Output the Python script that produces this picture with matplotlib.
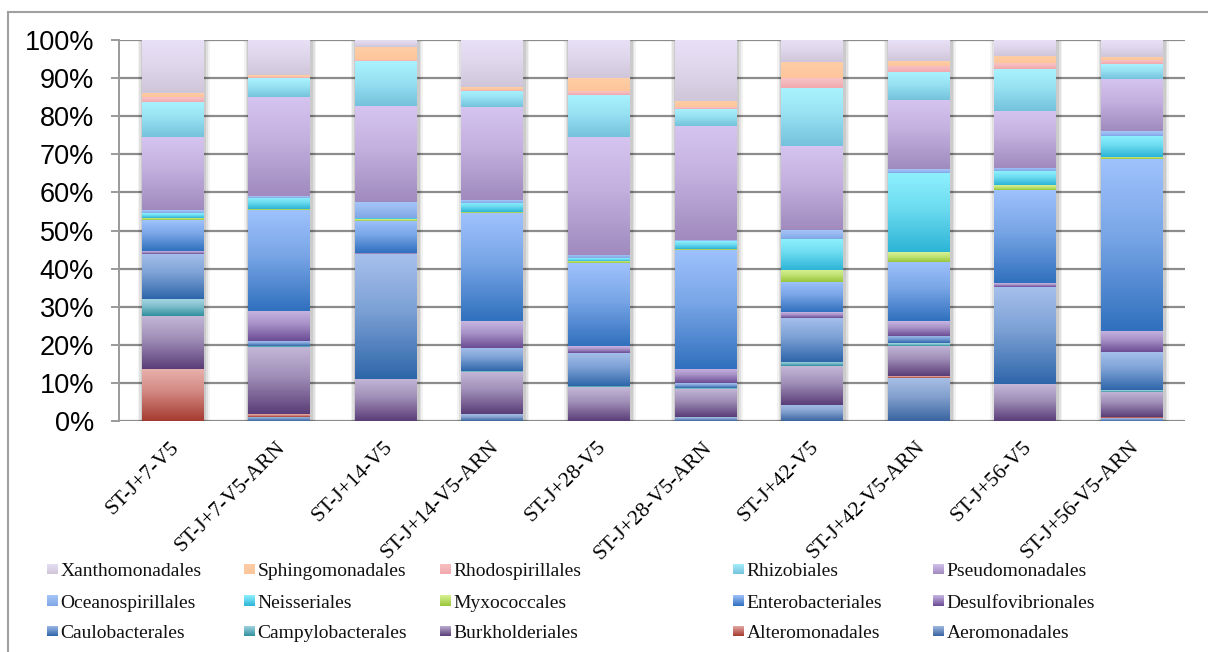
import numpy as np
import matplotlib
matplotlib.use("Agg")
import matplotlib.pyplot as plt
from matplotlib.colors import LinearSegmentedColormap, to_rgb
from matplotlib.lines import Line2D
import matplotlib.transforms as mtransforms

categories = ["ST-J+7-V5", "ST-J+7-V5-ARN", "ST-J+14-V5", "ST-J+14-V5-ARN",
              "ST-J+28-V5", "ST-J+28-V5-ARN", "ST-J+42-V5", "ST-J+42-V5-ARN",
              "ST-J+56-V5", "ST-J+56-V5-ARN"]

# series, stacked bottom -> top
aeromonadales      = [0.0, 1.05, 0.0, 1.75, 0.0, 1.05, 4.2, 11.3, 0.0, 0.7]
alteromonadales    = [13.7, 0.7, 0.0, 0.0, 0.0, 0.0, 0.0, 0.5, 0.0, 0.4]
burkholderiales    = [13.9, 17.7, 11.1, 11.1, 8.8, 7.4, 10.2, 7.9, 9.6, 6.6]
campylobacterales  = [4.5, 0.3, 0.0, 0.2, 0.3, 0.2, 1.1, 0.7, 0.0, 0.4]
caulobacterales    = [11.8, 1.3, 32.8, 6.1, 8.8, 1.2, 11.6, 1.9, 25.7, 9.9]
desulfovibrionales = [0.7, 7.9, 0.2, 7.0, 1.7, 3.7, 1.5, 3.9, 0.8, 5.6]
enterobacteriales  = [8.1, 26.3, 8.5, 28.3, 21.6, 31.3, 7.9, 15.5, 24.6, 44.9]
myxococcales       = [0.6, 0.4, 0.4, 0.3, 0.7, 0.3, 3.2, 2.6, 1.3, 0.7]
neisseriales       = [1.3, 2.9, 0.4, 2.5, 0.6, 2.1, 7.9, 20.6, 3.5, 5.5]
oceanospirillales  = [0.7, 0.4, 4.3, 0.7, 1.0, 0.2, 2.4, 1.0, 0.8, 1.2]
pseudomonadales    = [19.2, 26.0, 25.2, 24.4, 30.7, 30.0, 22.1, 18.1, 15.1, 13.7]
rhizobiales        = [9.2, 4.9, 11.8, 4.2, 11.0, 4.5, 15.2, 7.4, 11.1, 3.9]
rhodospirillales   = [1.2, 0.3, 0.2, 0.4, 1.0, 0.4, 2.6, 1.6, 1.5, 1.0]
sphingomonadales   = [1.2, 0.5, 3.4, 0.7, 3.4, 1.7, 4.2, 1.3, 1.9, 0.9]
xanthomonadales    = [13.8, 9.2, 1.9, 12.3, 10.0, 16.0, 5.8, 5.5, 4.1, 4.4]

series_names = ["Aeromonadales", "Alteromonadales", "Burkholderiales", "Campylobacterales",
                "Caulobacterales", "Desulfovibrionales", "Enterobacteriales", "Myxococcales",
                "Neisseriales", "Oceanospirillales", "Pseudomonadales", "Rhizobiales",
                "Rhodospirillales", "Sphingomonadales", "Xanthomonadales"]
series_values = [aeromonadales, alteromonadales, burkholderiales, campylobacterales,
                 caulobacterales, desulfovibrionales, enterobacteriales, myxococcales,
                 neisseriales, oceanospirillales, pseudomonadales, rhizobiales,
                 rhodospirillales, sphingomonadales, xanthomonadales]
# (top/light, bottom/dark)
series_colors = [
    ("#A9C0E6", "#3A64A0"),
    ("#EAB2AE", "#A53A30"),
    ("#C4B8D8", "#5A3D78"),
    ("#ABD8E6", "#30909E"),
    ("#A6C0EC", "#2E66AA"),
    ("#C8B6E2", "#6A4C94"),
    ("#9FC2FC", "#3070BE"),
    ("#D8F294", "#98C63A"),
    ("#8EF0FE", "#2CB4D6"),
    ("#A6C6F8", "#80A6E6"),
    ("#D6C4F0", "#A08ABE"),
    ("#AAF2FE", "#74C2DC"),
    ("#F8C2C4", "#F0A8AC"),
    ("#FFCEA6", "#FEC49A"),
    ("#E8E0F6", "#D0C6DA"),
]

W, H = 1208, 652
fig = plt.figure(figsize=(W / 100, H / 100), dpi=100)
ax = fig.add_axes([119 / W, 1 - 421 / H, (1185 - 119) / W, (421 - 40) / H])

vals = np.array(series_values, dtype=float)
pct = vals / vals.sum(axis=0) * 100.0
x = np.arange(len(categories))
bw = 0.575

# soft shadow behind bars
totals = pct.sum(axis=0)
for k, a in [(0.10, 0.05), (0.07, 0.07), (0.04, 0.09)]:
    ax.bar(x + 0.012, totals + 0.6, width=bw + k, bottom=-0.8, color="#000000",
           alpha=a, linewidth=0, zorder=2)

grad = np.linspace(0, 1, 128).reshape(-1, 1)
bottom = np.zeros(len(categories))
for name, v, (light, dark) in zip(series_names, pct, series_colors):
    mid = tuple(0.35 * np.array(to_rgb(dark)) + 0.65 * np.array(to_rgb(light)))
    cmap = LinearSegmentedColormap.from_list(
        name, [(0.0, to_rgb(dark)), (0.55, mid), (1.0, to_rgb(light))])
    bars = ax.bar(x, v, width=bw, bottom=bottom, color=light, linewidth=0, zorder=3, label=name)
    for p in bars:
        h = p.get_height()
        if h <= 0:
            continue
        x0, y0, w = p.get_x(), p.get_y(), p.get_width()
        im = ax.imshow(grad, extent=[x0, x0 + w, y0, y0 + h], origin="lower", cmap=cmap,
                       aspect="auto", zorder=4, interpolation="bilinear", vmin=0, vmax=1)
        im.set_clip_path(p)
    bottom += v

ax.set_xlim(-0.5, len(categories) - 0.5)
ax.set_ylim(0, 100)
ax.set_yticks(np.arange(0, 101, 10))
ax.set_yticklabels([f"{t}%" for t in range(0, 101, 10)], fontfamily="Liberation Sans", fontsize=19.5)
ax.yaxis.grid(True, color="#8C8C8C", linewidth=1.6)
ax.set_axisbelow(True)
for s in ["top", "right", "bottom"]:
    ax.spines[s].set_visible(False)
ax.spines["left"].set_color("#9A9A9A")
ax.spines["left"].set_linewidth(1.4)
ax.tick_params(axis="y", length=6, width=1.4, color="#9A9A9A", pad=12)
ax.tick_params(axis="x", length=0, pad=17)
ax.set_xticks(x)
ax.set_xticklabels(categories, rotation=45, ha="right", va="center",
                   rotation_mode="anchor", fontfamily="Liberation Serif", fontsize=15.5)
off = mtransforms.ScaledTranslation(4 / 100, 0, fig.dpi_scale_trans)
for lab in ax.get_xticklabels():
    lab.set_transform(lab.get_transform() + off)

# outer chart frame (left and top edges visible)
fig.add_artist(Line2D([8 / W, 8 / W], [0, 1 - 12 / H], transform=fig.transFigure,
                      color="#A0A0A0", linewidth=1.5))
fig.add_artist(Line2D([8 / W, 1], [1 - 12 / H, 1 - 12 / H], transform=fig.transFigure,
                      color="#A0A0A0", linewidth=1.5))

# legend laid out as in the reference (row-major reading order)
legend_order = list(reversed(series_names))
col_x = [47, 244, 440, 733, 933]
row_y = [569, 600, 631]
color_map = dict(zip(series_names, series_colors))
for i, name in enumerate(legend_order):
    r, c = divmod(i, 5)
    mx, my = col_x[c], row_y[r]
    light, dark = color_map[name]
    cax = fig.add_axes([mx / W, 1 - (my + 5.5) / H, 10.5 / W, 11 / H])
    cmap = LinearSegmentedColormap.from_list("l" + name, [to_rgb(dark), to_rgb(light)])
    cax.imshow(grad, origin="lower", cmap=cmap, aspect="auto", extent=[0, 1, 0, 1])
    cax.set_axis_off()
    fig.text((mx + 13.5) / W, 1 - (my + 1) / H, name, fontfamily="Liberation Serif",
             fontsize=14, va="center_baseline", ha="left", color="#111111")

fig.savefig("out.png", dpi=100)
